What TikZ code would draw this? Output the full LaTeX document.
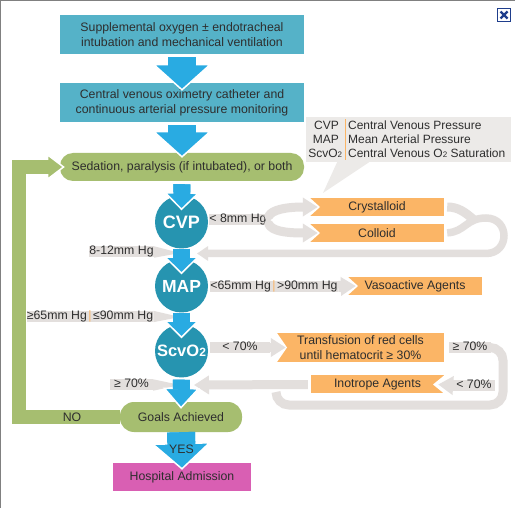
\documentclass[tikz,border=0pt]{standalone}
\usepackage{fontspec}
\setmainfont{Liberation Sans}
\usetikzlibrary{matrix,arrows.meta,positioning,calc,shapes.geometric}
\definecolor{tealbox}{HTML}{55B2C8}
\definecolor{tealdisc}{HTML}{2694B0}
\definecolor{flowblue}{HTML}{29ABE2}
\definecolor{flowgreen}{HTML}{A6BE70}
\definecolor{orangebox}{HTML}{FBB566}
\definecolor{pinkbox}{HTML}{D95FB3}
\definecolor{greyfill}{HTML}{E3DFDD}
\definecolor{legendfill}{HTML}{ECEAE8}
\definecolor{inktext}{HTML}{2E2E2E}
\definecolor{closeblue}{HTML}{1F3E8C}
\newcommand{\lowtwo}{{\fontsize{8}{8}\selectfont 2}}
\newcommand{\midbar}{\hspace{1.5pt}{\color{orangebox}|}\hspace{1.5pt}}
\tikzset{
  txt/.style={font=\fontsize{12.3}{15}\selectfont,text=inktext,align=center,inner sep=0pt},
  plainbox/.style 2 args={txt,fill=#1,minimum width=#2,minimum height=18pt},
  notchleft/.style={path picture={\fill[white] (path picture bounding box.north west) -- ($(path picture bounding box.west)+(10,0)$) -- (path picture bounding box.south west) -- cycle;}},
  notchright/.style={path picture={\fill[white] (path picture bounding box.north east) -- ($(path picture bounding box.east)+(-11,0)$) -- (path picture bounding box.south east) -- cycle;}},
  disc/.style={circle,fill=tealdisc,minimum size=53pt,inner sep=0pt,text=white,font=\fontsize{18}{18}\selectfont\bfseries},
  greylabel/.style={txt,fill=greyfill,text height=8.5pt,text depth=2.5pt},
  greyband/.style={draw=greyfill,line width=9pt},
  greyarrow/.style={greyband,-{Triangle[length=15pt,width=18pt]}},
  flowarrow/.style n args={4}{draw=#1,line width=#2,-{Triangle[length=#4,width=#3,line width=1.5pt,color=white,fill=#1]},postaction={draw=#1,-,shorten >=#4-2pt}},
  bigblue/.style={flowarrow={flowblue}{28pt}{60pt}{27pt}},
  smallblue/.style={flowarrow={flowblue}{17pt}{36pt}{18pt}}
}
\begin{document}
\begin{tikzpicture}[x=1pt,y=-1pt]
\useasboundingbox (0,0) rectangle (515,508);
\fill[white] (0,0) rectangle (515,508);
\draw[gray,line width=2.5pt] (0,508) -- (0,0) -- (515,0);

\node[closeicon/.style={draw=closeblue,line width=1pt,minimum size=13pt,inner sep=0pt,path picture={\draw[closeblue,line width=2.2pt] (path picture bounding box.north west) ++(3,3) -- ++(7,7) ++(-7,0) -- ++(7,-7);}},closeicon] (closebtn) at (504,15) {};

\node[plainbox={tealbox}{244pt},minimum height=39pt] (oxygen) at (182,34.5) {Supplemental oxygen ± endotracheal\\intubation and mechanical ventilation};
\node[plainbox={tealbox}{244pt},minimum height=39pt] (catheter) at (182,102.5) {Central venous oximetry catheter and\\continuous arterial pressure monitoring};
\node[plainbox={flowgreen}{244pt},minimum height=28pt,rounded corners=13pt] (sedation) at (182,167) {Sedation, paralysis (if intubated), or both};
\node[disc] (cvp) at (181.5,222) {CVP};
\node[disc,font=\fontsize{17.5}{18}\selectfont\bfseries] (map) at (181.5,286) {MAP};
\node[disc,font=\fontsize{16.5}{18}\selectfont\bfseries] (scv) at (181.5,351) {ScvO{\fontsize{12}{12}\selectfont 2}};
\node[plainbox={flowgreen}{122pt},minimum height=30pt,rounded corners=14pt] (goals) at (181,417) {Goals Achieved};
\node[plainbox={pinkbox}{138pt},minimum height=28pt] (hospital) at (182,477) {Hospital Admission};

\node[plainbox={orangebox}{134pt},notchleft] (crystalloid) at (377,207) {Crystalloid};
\node[plainbox={orangebox}{134pt},notchleft] (colloid) at (377,233) {Colloid};
\node[plainbox={orangebox}{134pt},notchleft] (vasoactive) at (415,286) {Vasoactive Agents};
\node[plainbox={orangebox}{167pt},notchleft,minimum height=29pt] (transfusion) at (360.5,347.5) {Transfusion of red cells\\until hematocrit ≥ 30\%};
\node[plainbox={orangebox}{133pt},notchright] (inotrope) at (377.5,384.5) {Inotrope Agents};

\matrix (legend) [matrix of nodes,fill=legendfill,inner xsep=2pt,inner ysep=2.5pt,column sep=6pt,row sep=2pt,
  nodes={txt,font=\fontsize{12}{15}\selectfont,text height=10pt,text depth=2pt},
  column 1/.style={anchor=base east},column 2/.style={anchor=base west}] at (408.5,139.5)
{
CVP & Central Venous Pressure \\
MAP & Mean Arterial Pressure \\
ScvO\lowtwo & Central Venous O\lowtwo\ Saturation \\
};
\coordinate (legendtip) at (323,193);
\fill[legendfill] ($(legend.south west)+(31,0)$) -- ($(legend.south west)+(63,0)$) -- (legendtip) -- cycle;
\draw[orangebox,line width=1.2pt] ($(legend-1-1.north east)+(3,0)$) -- ($(legend-3-1.south east)+(3,0)$);

\node[greylabel,minimum width=56pt] (lowcvp) at (238,220) {< 8mm Hg};
\node[greylabel,minimum width=65pt] (okcvp) at (121.5,252) {8-12mm Hg};
\node[greylabel,minimum width=128pt] (lowmap) at (274,286.5) {<65mm Hg\midbar>90mm Hg};
\node[greylabel,minimum width=126pt] (okmap) at (90,316.5) {≥65mm Hg\midbar≤90mm Hg};
\node[greylabel,minimum width=60pt] (lowscv) at (240,347.5) {< 70\%};
\node[greylabel,minimum width=43pt] (okscv) at (131.5,385) {≥ 70\%};
\node[greylabel,minimum width=42pt] (backup) at (470,347.5) {≥ 70\%};
\node[greylabel,minimum width=42pt] (backlow) at (474,385.5) {< 70\%};

\coordinate (cvpexit) at (180,253);
\coordinate (mapexit) at (180,317);
\coordinate (scvexit) at (180,385);
\fill[greyfill] (okcvp.north east) -- (okcvp.south east) -- (cvpexit) -- cycle;
\fill[greyfill] (okmap.north east) -- (okmap.south east) -- (mapexit) -- cycle;
\fill[greyfill] (okscv.north east) -- (okscv.south east) -- (scvexit) -- cycle;

\coordinate (returnin) at (197,253.5);
\coordinate (inotropeout) at (194,385);
\coordinate (loopend) at (276,392);
\draw[greyarrow,line cap=round,shorten <=4.5pt] (lowcvp.east) .. controls (272,210) and (285,207) .. ($(crystalloid.west)+(8,0)$);
\draw[greyarrow,line cap=round,shorten <=4.5pt] (lowcvp.east) .. controls (272,231) and (285,233) .. ($(colloid.west)+(8,0)$);
\draw[greyband,shorten <=3pt] (crystalloid.east) .. controls (458,207) and (465,212) .. (474,220);
\draw[greyband,-{Triangle[length=11pt,width=14pt]},line width=7.5pt,shorten <=3pt] (colloid.east) .. controls (465,232) and (466,218) .. (486,218) .. controls (510,218) and (510,253.5) .. (486,253.5) -- (returnin);
\draw[greyarrow,line width=11pt] (lowmap.east) -- ($(vasoactive.west)+(8,0)$);
\draw[greyarrow] (lowscv.east) -- ($(transfusion.west)+(9,0)$);
\draw[greyarrow] (backlow.west) -- ($(inotrope.east)+(-6,0)$);
\draw[greyarrow,shorten <=3pt] (inotrope.west) -- (inotropeout);
\draw[greyband,rounded corners=13pt] (backup.east) -- (503,347.5) -- (503,405) -- (276,405) -- (loopend);

\draw[bigblue,shorten <=3pt] (oxygen.south) -- ($(catheter.north)+(0,8)$);
\draw[bigblue,shorten <=3pt] (catheter.south) -- ($(sedation.north)+(0,5)$);
\draw[smallblue,shorten <=3pt] (sedation.south) -- ($(cvp.north)+(0,15)$);
\draw[smallblue] (cvp.south) -- ($(map.north)+(0,15)$);
\draw[smallblue] (map.south) -- ($(scv.north)+(0,14)$);
\draw[flowarrow={flowblue}{17pt}{37pt}{21pt},shorten <=2pt] (scv.south) -- ($(goals.north)+(0,7)$);
\draw[bigblue] (goals.south) -- ($(hospital.north)+(0,7)$);
\node[txt] (yeslabel) at (181.5,449) {YES};

\coordinate (loopbottom) at (19,417);
\coordinate (looptop) at (19,167);
\draw[flowarrow={flowgreen}{13.5pt}{27pt}{18pt}] (goals.west) -- (loopbottom) -- (looptop) -- ($(sedation.west)+(5,0)$);
\node[txt] (nolabel) at (72,417) {NO};
\end{tikzpicture}
\end{document}
